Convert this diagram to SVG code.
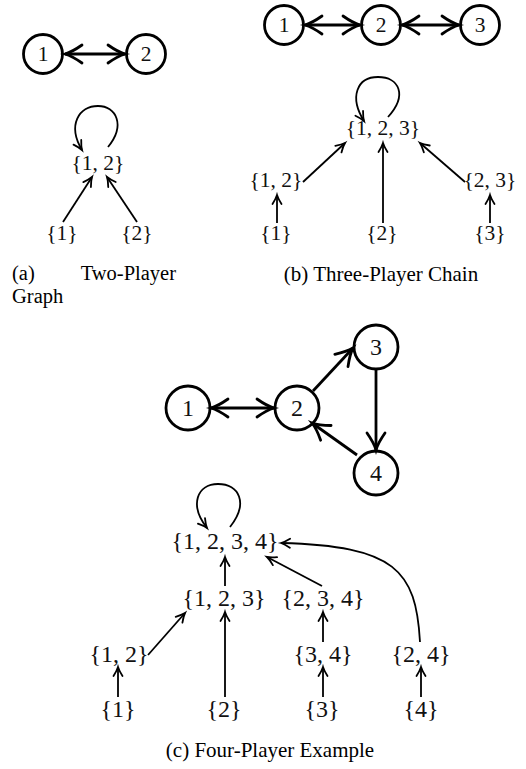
<svg xmlns="http://www.w3.org/2000/svg" width="526" height="769" viewBox="0 0 526 769">
<style>
.node circle{fill:none;stroke:#000;stroke-width:2.8}
.lbl{font-family:"Liberation Serif","Times New Roman",serif;text-anchor:middle;fill:#111}
.s{font-size:21.5px}
.l{font-size:24px}
.cap{font-family:"Liberation Serif","Times New Roman",serif;font-size:21px;fill:#000}
.capa{font-size:20.5px}
.thick{stroke:#000;stroke-width:2.8;fill:none;marker-end:url(#big)}
.both{marker-start:url(#big)}
.thin{stroke:#000;stroke-width:1.8;fill:none;marker-end:url(#small)}
</style>
<defs>
<marker id="big" viewBox="-20 -12 24 24" markerWidth="24" markerHeight="24" refX="0" refY="0" orient="auto-start-reverse" markerUnits="userSpaceOnUse" overflow="visible">
<path d="M-17,-9 Q-7,-2 0,0 Q-7,2 -17,9" fill="none" stroke="#000" stroke-width="2.8" stroke-linecap="round"/>
</marker>
<marker id="small" viewBox="-12 -8 14 16" markerWidth="14" markerHeight="16" refX="0" refY="0" orient="auto" markerUnits="userSpaceOnUse" overflow="visible">
<path d="M-9,-4.5 Q-3.5,-1 0,0 Q-3.5,1 -9,4.5" fill="none" stroke="#000" stroke-width="1.8" stroke-linecap="round"/>
</marker>
</defs>

<!-- Panel (a) -->
<g id="a-p1" class="node"><circle cx="43" cy="54" r="19.5"/><text class="lbl s" x="43" y="61.3">1</text></g>
<g id="a-p2" class="node"><circle cx="146" cy="54" r="19.5"/><text class="lbl s" x="146" y="61.3">2</text></g>
<g id="a-s12"><text class="lbl s" x="98" y="170">{1, 2}</text></g>
<g id="a-s1"><text class="lbl s" x="62" y="240">{1}</text></g>
<g id="a-s2"><text class="lbl s" x="137" y="240">{2}</text></g>
<g id="a-edges">
<line class="thick both" x1="65" y1="54" x2="125" y2="54"/>
<path class="thin" d="M108,147 C126,125 116,106 98,106 C79,106 67,125 82,150"/>
<path class="thin" d="M63,222 L92,177"/>
<path class="thin" d="M137,222 L107,177"/>
</g>
<text class="cap capa" x="12" y="280">(a)</text>
<text class="cap capa" x="176" y="280" text-anchor="end">Two-Player</text>
<text class="cap capa" x="12" y="303">Graph</text>

<!-- Panel (b) -->
<g id="b-p1" class="node"><circle cx="284" cy="25" r="19.5"/><text class="lbl s" x="284" y="32.3">1</text></g>
<g id="b-p2" class="node"><circle cx="381" cy="25" r="19.5"/><text class="lbl s" x="381" y="32.3">2</text></g>
<g id="b-p3" class="node"><circle cx="480" cy="25" r="19.5"/><text class="lbl s" x="480" y="32.3">3</text></g>
<g id="b-s123"><text class="lbl s" x="383" y="135">{1, 2, 3}</text></g>
<g id="b-s12"><text class="lbl s" x="276" y="187">{1, 2}</text></g>
<g id="b-s23"><text class="lbl s" x="490" y="187">{2, 3}</text></g>
<g id="b-s1"><text class="lbl s" x="276" y="240">{1}</text></g>
<g id="b-s2"><text class="lbl s" x="382" y="240">{2}</text></g>
<g id="b-s3"><text class="lbl s" x="490" y="240">{3}</text></g>
<g id="b-edges">
<line class="thick both" x1="305" y1="25" x2="360" y2="25"/>
<line class="thick both" x1="402" y1="25" x2="459" y2="25"/>
<path class="thin" d="M388,117 C408,95 399,77 378,77 C357,77 349,97 364,121"/>
<path class="thin" d="M303,182 L345,143"/>
<path class="thin" d="M465,182 L420,143"/>
<path class="thin" d="M383,223 L383,143"/>
<path class="thin" d="M277,223 L277,195"/>
<path class="thin" d="M490,223 L490,195"/>
</g>
<text class="cap" x="381" y="281" text-anchor="middle">(b) Three-Player Chain</text>

<!-- Panel (c) -->
<g id="c-p1" class="node"><circle cx="188" cy="408" r="22"/><text class="lbl l" x="188" y="416">1</text></g>
<g id="c-p2" class="node"><circle cx="297" cy="408" r="22"/><text class="lbl l" x="297" y="416">2</text></g>
<g id="c-p3" class="node"><circle cx="376" cy="347" r="22"/><text class="lbl l" x="376" y="355">3</text></g>
<g id="c-p4" class="node"><circle cx="376" cy="473" r="22"/><text class="lbl l" x="376" y="481">4</text></g>
<g id="c-s1234"><text class="lbl l" x="225" y="549">{1, 2, 3, 4}</text></g>
<g id="c-s123"><text class="lbl l" x="224" y="606">{1, 2, 3}</text></g>
<g id="c-s234"><text class="lbl l" x="323" y="606">{2, 3, 4}</text></g>
<g id="c-s12"><text class="lbl l" x="119" y="662">{1, 2}</text></g>
<g id="c-s34"><text class="lbl l" x="323" y="662">{3, 4}</text></g>
<g id="c-s24"><text class="lbl l" x="421" y="662">{2, 4}</text></g>
<g id="c-s1"><text class="lbl l" x="118" y="717">{1}</text></g>
<g id="c-s2"><text class="lbl l" x="224" y="717">{2}</text></g>
<g id="c-s3"><text class="lbl l" x="322" y="717">{3}</text></g>
<g id="c-s4"><text class="lbl l" x="421" y="717">{4}</text></g>
<g id="c-edges">
<line class="thick both" x1="211" y1="408" x2="274" y2="408"/>
<path class="thick" d="M313,391 L353,348"/>
<path class="thick" d="M376,370 L376,450"/>
<path class="thick" d="M357,455 L312,423"/>
<path class="thin" d="M230,527 C249,503 239,484 218,484 C197,484 189,505 207,528"/>
<path class="thin" d="M225,586 L225,557"/>
<path class="thin" d="M322,586 L267,557"/>
<path class="thin" d="M420,642 C416,570 395,546 281,543"/>
<path class="thin" d="M148,655 L185,613"/>
<path class="thin" d="M225,697 L225,612"/>
<path class="thin" d="M323,642 L323,612"/>
<path class="thin" d="M118,697 L118,667"/>
<path class="thin" d="M323,697 L323,667"/>
<path class="thin" d="M421,697 L421,667"/>
</g>
<text class="cap" x="270" y="757" text-anchor="middle">(c) Four-Player Example</text>
</svg>
